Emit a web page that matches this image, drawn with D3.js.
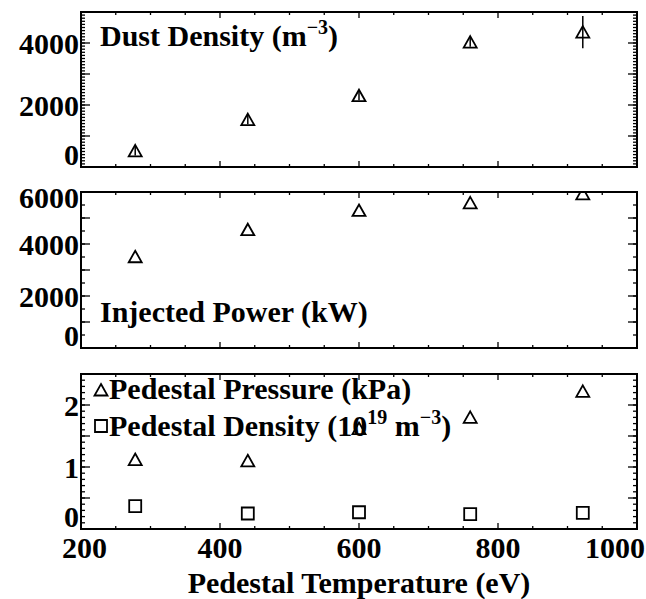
<!DOCTYPE html>
<html>
<head>
<meta charset="utf-8">
<script src="https://cdn.jsdelivr.net/npm/d3@7"></script>
<style>
  body { margin: 0; background: #fff; }
  text { font-family: "Liberation Serif", "Times New Roman", serif; font-weight: bold; fill: #000; }
</style>
</head>
<body>
<svg id="chart" width="646" height="599"></svg>
<script>
// Data
const temperature = [278, 440, 600, 760, 922];
const dustDensity = [520, 1530, 2300, 4030, 4350];
const dustError = [150, 150, 150, 150, 520];
const injectedPower = [3510, 4550, 5290, 5580, 5930];
const pedestalPressure = [1.12, 1.10, 1.62, 1.80, 2.22];
const pedestalDensity = [0.37, 0.25, 0.27, 0.24, 0.26];

const xTickLabels = [200, 400, 600, 800, 1000];
const dustTicks = [0, 2000, 4000];
const powerTicks = [0, 2000, 4000, 6000];
const pedestalTicks = [0, 1, 2];

const svg = d3.select('#chart');
const W = 646;
const left = 81, right = 637;
const fontSize = '30px';

// Shared x scale
const x = d3.scaleLinear().domain([200, 1000]).range([left, right]);

// Marker shapes
const triPath = 'M0,-6L6.5,5.5L-6.5,5.5Z';
const sqPath = 'M-6,-6H6V6H-6Z';

// Panel configs
const panels = [
    { id: 'dust', top: 12, bottom: 167, domain: [0, 5000], labels: dustTicks, major: 1000, minor: 100 },
    { id: 'power', top: 192, bottom: 348, domain: [0, 6000], labels: powerTicks, major: 1000, minor: 500 },
    { id: 'ped', top: 374, bottom: 529, domain: [0, 2.5], labels: pedestalTicks, major: 0.5, minor: 0.1 }
];

const defs = svg.append('defs');

panels.forEach(p => {
    p.y = d3.scaleLinear().domain(p.domain).range([p.bottom, p.top]);
    const g = svg.append('g').attr('class', 'panel-' + p.id);
    p.g = g;

    defs.append('clipPath').attr('id', 'clip-' + p.id)
        .append('rect')
        .attr('x', left).attr('y', p.top)
        .attr('width', right - left).attr('height', p.bottom - p.top);

    // minor / major y ticks on both sides
    const yMinor = d3.range(p.domain[0], p.domain[1] + 1e-9, p.minor);
    const yMajor = d3.range(p.domain[0], p.domain[1] + 1e-9, p.major);
    const tickG = g.append('g').attr('stroke', '#000').attr('stroke-width', 1.3);
    yMinor.forEach(v => {
        const yy = p.y(v);
        tickG.append('line').attr('x1', left).attr('x2', left + 4).attr('y1', yy).attr('y2', yy);
        tickG.append('line').attr('x1', right).attr('x2', right - 4).attr('y1', yy).attr('y2', yy);
    });
    yMajor.forEach(v => {
        const yy = p.y(v);
        tickG.append('line').attr('x1', left).attr('x2', left + 9).attr('y1', yy).attr('y2', yy);
        tickG.append('line').attr('x1', right).attr('x2', right - 9).attr('y1', yy).attr('y2', yy);
    });

    // x ticks on top and bottom edges
    d3.range(200, 1000 + 1e-9, 50).forEach(v => {
        const len = v % 200 === 0 ? 6 : 3;
        const xx = x(v);
        tickG.append('line').attr('x1', xx).attr('x2', xx).attr('y1', p.top).attr('y2', p.top + len);
        tickG.append('line').attr('x1', xx).attr('x2', xx).attr('y1', p.bottom).attr('y2', p.bottom - len);
    });

    // frame
    g.append('rect')
        .attr('x', left).attr('y', p.top)
        .attr('width', right - left).attr('height', p.bottom - p.top)
        .attr('fill', 'none').attr('stroke', '#000').attr('stroke-width', 2);

    // y labels (kept inside the panel's height)
    g.selectAll('.ylabel')
        .data(p.labels)
        .enter().append('text')
        .attr('class', 'ylabel')
        .attr('x', 79)
        .attr('y', d => Math.max(Math.min(p.y(d), p.bottom - 13), p.top + 5))
        .attr('dy', '0.35em')
        .attr('text-anchor', 'end')
        .style('font-size', fontSize)
        .text(d => d);
});

function drawMarkers(p, values, path, cls) {
    p.g.append('g')
        .attr('clip-path', `url(#clip-${p.id})`)
        .selectAll('.' + cls)
        .data(values)
        .enter().append('path')
        .attr('class', cls)
        .attr('d', path)
        .attr('transform', (d, i) => `translate(${x(temperature[i])},${p.y(d)})`)
        .attr('fill', 'none')
        .attr('stroke', '#000')
        .attr('stroke-width', 1.8);
}

// Dust density with error bars
const pDust = panels[0];
pDust.g.append('g')
    .attr('clip-path', 'url(#clip-dust)')
    .selectAll('.err')
    .data(dustDensity)
    .enter().append('line')
    .attr('class', 'err')
    .attr('x1', (d, i) => x(temperature[i]))
    .attr('x2', (d, i) => x(temperature[i]))
    .attr('y1', (d, i) => pDust.y(d - dustError[i]))
    .attr('y2', (d, i) => pDust.y(d + dustError[i]))
    .attr('stroke', '#000')
    .attr('stroke-width', 1.5);
drawMarkers(pDust, dustDensity, triPath, 'dust');

drawMarkers(panels[1], injectedPower, triPath, 'power');
drawMarkers(panels[2], pedestalPressure, triPath, 'pressure');
drawMarkers(panels[2], pedestalDensity, sqPath, 'density');

// x tick labels, nudged to stay inside the picture
svg.selectAll('.xlabel')
    .data(xTickLabels)
    .enter().append('text')
    .attr('class', 'xlabel')
    .attr('y', 558)
    .attr('text-anchor', 'middle')
    .style('font-size', fontSize)
    .text(d => d)
    .attr('x', function(d) {
        const half = this.getComputedTextLength() / 2;
        return Math.max(62 + half, Math.min(x(d), W - 1 - half));
    });

svg.append('text')
    .attr('x', (left + right) / 2)
    .attr('y', 593)
    .attr('text-anchor', 'middle')
    .style('font-size', fontSize)
    .text('Pedestal Temperature (eV)');

// panel titles
const t1 = svg.append('text').attr('x', 100).attr('y', 46).style('font-size', fontSize);
t1.append('tspan').text('Dust Density (m');
t1.append('tspan').attr('dy', -12).style('font-size', '20px').text('\u22123');
t1.append('tspan').attr('dy', 12).text(')');

svg.append('text').attr('x', 100).attr('y', 322).style('font-size', fontSize).text('Injected Power (kW)');

// legend in bottom panel
svg.append('path').attr('d', triPath).attr('transform', 'translate(101,390)')
    .attr('fill', 'none').attr('stroke', '#000').attr('stroke-width', 1.8);
svg.append('text').attr('x', 109).attr('y', 399).style('font-size', fontSize).text('Pedestal Pressure (kPa)');

svg.append('path').attr('d', sqPath).attr('transform', 'translate(101,426)')
    .attr('fill', 'none').attr('stroke', '#000').attr('stroke-width', 1.8);
const t2 = svg.append('text').attr('x', 109).attr('y', 436).style('font-size', fontSize);
t2.append('tspan').text('Pedestal Density (10');
t2.append('tspan').attr('dy', -12).style('font-size', '20px').text('19');
t2.append('tspan').attr('dy', 12).text(' m');
t2.append('tspan').attr('dy', -12).style('font-size', '20px').text('\u22123');
t2.append('tspan').attr('dy', 12).text(')');
</script>
</body>
</html>
